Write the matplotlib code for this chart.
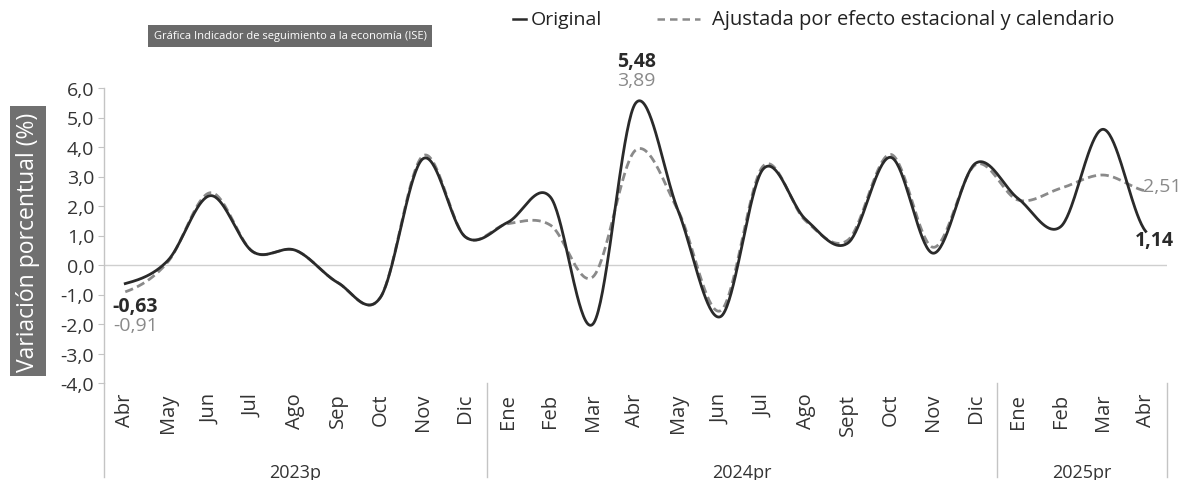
import numpy as np
import matplotlib
matplotlib.use("Agg")
import matplotlib.pyplot as plt
from matplotlib.lines import Line2D
import matplotlib.transforms as mtransforms

plt.rcParams['font.family'] = ['Open Sans', 'DejaVu Sans']

# ---------------- data ----------------
months = ["Abr", "May", "Jun", "Jul", "Ago", "Sep", "Oct", "Nov", "Dic",
          "Ene", "Feb", "Mar", "Abr", "May", "Jun", "Jul", "Ago", "Sept", "Oct", "Nov", "Dic",
          "Ene", "Feb", "Mar", "Abr"]
years = ["2023p", "2024pr", "2025pr"]
year_counts = [9, 12, 4]
original = [-0.63, 0.15, 2.35, 0.45, 0.50, -0.60, -1.10, 3.60, 0.95,
            1.45, 2.30, -2.00, 5.48, 1.85, -1.75, 3.25, 1.55, 0.75, 3.65, 0.40, 3.45,
            2.25, 1.30, 4.60, 1.14]
ajustada = [-0.91, 0.10, 2.45, 0.45, 0.50, -0.60, -1.10, 3.70, 0.95,
            1.40, 1.35, -0.40, 3.89, 1.85, -1.55, 3.35, 1.50, 0.85, 3.75, 0.60, 3.40,
            2.20, 2.60, 3.05, 2.51]
yticks = [6, 5, 4, 3, 2, 1, 0, -1, -2, -3, -4]

C_ORIG = "#2a2a2a"
C_ADJ = "#8a8a8a"
C_AXIS = "#c4c4c4"


def smooth(vals, n=40):
    """Catmull-Rom smoothing through the points (like spreadsheet smoothed lines)."""
    y = np.asarray(vals, dtype=float)
    p = np.concatenate([[y[0]], y, [y[-1]]])
    xs, ys = [], []
    t = np.linspace(0, 1, n, endpoint=False)
    for i in range(len(y) - 1):
        p0, p1, p2, p3 = p[i], p[i + 1], p[i + 2], p[i + 3]
        seg = 0.5 * ((2 * p1) + (-p0 + p2) * t + (2 * p0 - 5 * p1 + 4 * p2 - p3) * t ** 2
                     + (-p0 + 3 * p1 - 3 * p2 + p3) * t ** 3)
        xs.append(i + t)
        ys.append(seg)
    xs.append([len(y) - 1])
    ys.append([y[-1]])
    return np.concatenate(xs), np.concatenate(ys)


fig = plt.figure(figsize=(11.84, 4.81), dpi=100)
W, H = 1184, 481
ax = fig.add_axes([104 / W, 1 - 384 / H, (1167 - 104) / W, (384 - 89) / H])

x = np.arange(len(months))
xs, ys = smooth(ajustada)
ax.plot(xs, ys, color=C_ADJ, lw=2.0, ls=(0, (3, 1.6)), zorder=3, solid_capstyle='butt')
xs, ys = smooth(original)
ax.plot(xs, ys, color=C_ORIG, lw=2.0, zorder=4)

ax.axhline(0, color="#cfcfcf", lw=1.0, zorder=1)

ax.set_xlim(-0.5, len(months) - 0.5)
ax.set_ylim(-4, 6)
ax.set_yticks(yticks)
ax.set_yticklabels([f"{v:.1f}".replace(".", ",") for v in yticks], fontsize=14, color="#333333")
ax.tick_params(axis='y', length=4, width=0.8, color=C_AXIS, pad=3)
ax.set_xticks(x)
ax.set_xticklabels(months, rotation=90, fontsize=14.5, color="#333333")
ax.tick_params(axis='x', length=0, pad=7)

for s in ["top", "right", "bottom"]:
    ax.spines[s].set_visible(False)
ax.spines["left"].set_color(C_AXIS)
ax.spines["left"].set_linewidth(1.0)

# category group separators and left axis extension
trans = mtransforms.blended_transform_factory(ax.transData, ax.transAxes)
bounds = np.cumsum(year_counts) - 0.5
for b in [-0.5] + list(bounds):
    ax.plot([b, b], [0, -0.32], transform=trans, color=C_AXIS, lw=1.0, clip_on=False)
start = 0
for yr, cnt in zip(years, year_counts):
    ax.text(start + (cnt - 1) / 2, -0.30, yr, transform=trans, ha='center', va='center',
            fontsize=13, color="#333333")
    start += cnt

# data labels
def lab(i, v, txt, dx, dy, color, bold, ha='center'):
    ax.annotate(txt, (i, v), xytext=(dx * 0.72, dy * 0.72), textcoords='offset points',
                ha=ha, va='center', fontsize=14, color=color,
                fontweight='bold' if bold else 'normal', annotation_clip=False)

lab(0, original[0], "-0,63", 10, -22, C_ORIG, True)
lab(0, ajustada[0], "-0,91", 10, -33, C_ADJ, False)
lab(12, original[12], "5,48", 1, 42, C_ORIG, True)
lab(12, ajustada[12], "3,89", 1, 70, C_ADJ, False)
lab(24, ajustada[24], "2,51", -3, 5, C_ADJ, False, ha='left')
lab(24, original[24], "1,14", 9, -9, C_ORIG, True)

# y-axis label box
fig.text(28 / W, 1 - 242 / H, "Variación porcentual (%)", rotation=90, ha='center', va='center',
         fontsize=16.5, color="white",
         bbox=dict(boxstyle='square,pad=0.25', facecolor="#707070", edgecolor='none'))

# title box
fig.text(290 / W, 1 - 37 / H, "Gráfica Indicador de seguimiento a la economía (ISE)", ha='center',
         va='center', fontsize=8, color="white",
         bbox=dict(boxstyle='square,pad=0.5', facecolor="#6a6a6a", edgecolor='none'))

# legend
fig.add_artist(Line2D([513 / W, 526 / W], [1 - 20 / H, 1 - 20 / H], color=C_ORIG, lw=1.8))
fig.text(531 / W, 1 - 20 / H, "Original", ha='left', va='center', fontsize=14, color="#222222")
fig.add_artist(Line2D([657 / W, 700 / W], [1 - 20 / H, 1 - 20 / H], color=C_ADJ, lw=1.8,
                      ls=(0, (3, 2))))
fig.text(712 / W, 1 - 20 / H, "Ajustada por efecto estacional y calendario", ha='left',
         va='center', fontsize=14.5, color="#222222")

fig.savefig("out.png", dpi=100)
